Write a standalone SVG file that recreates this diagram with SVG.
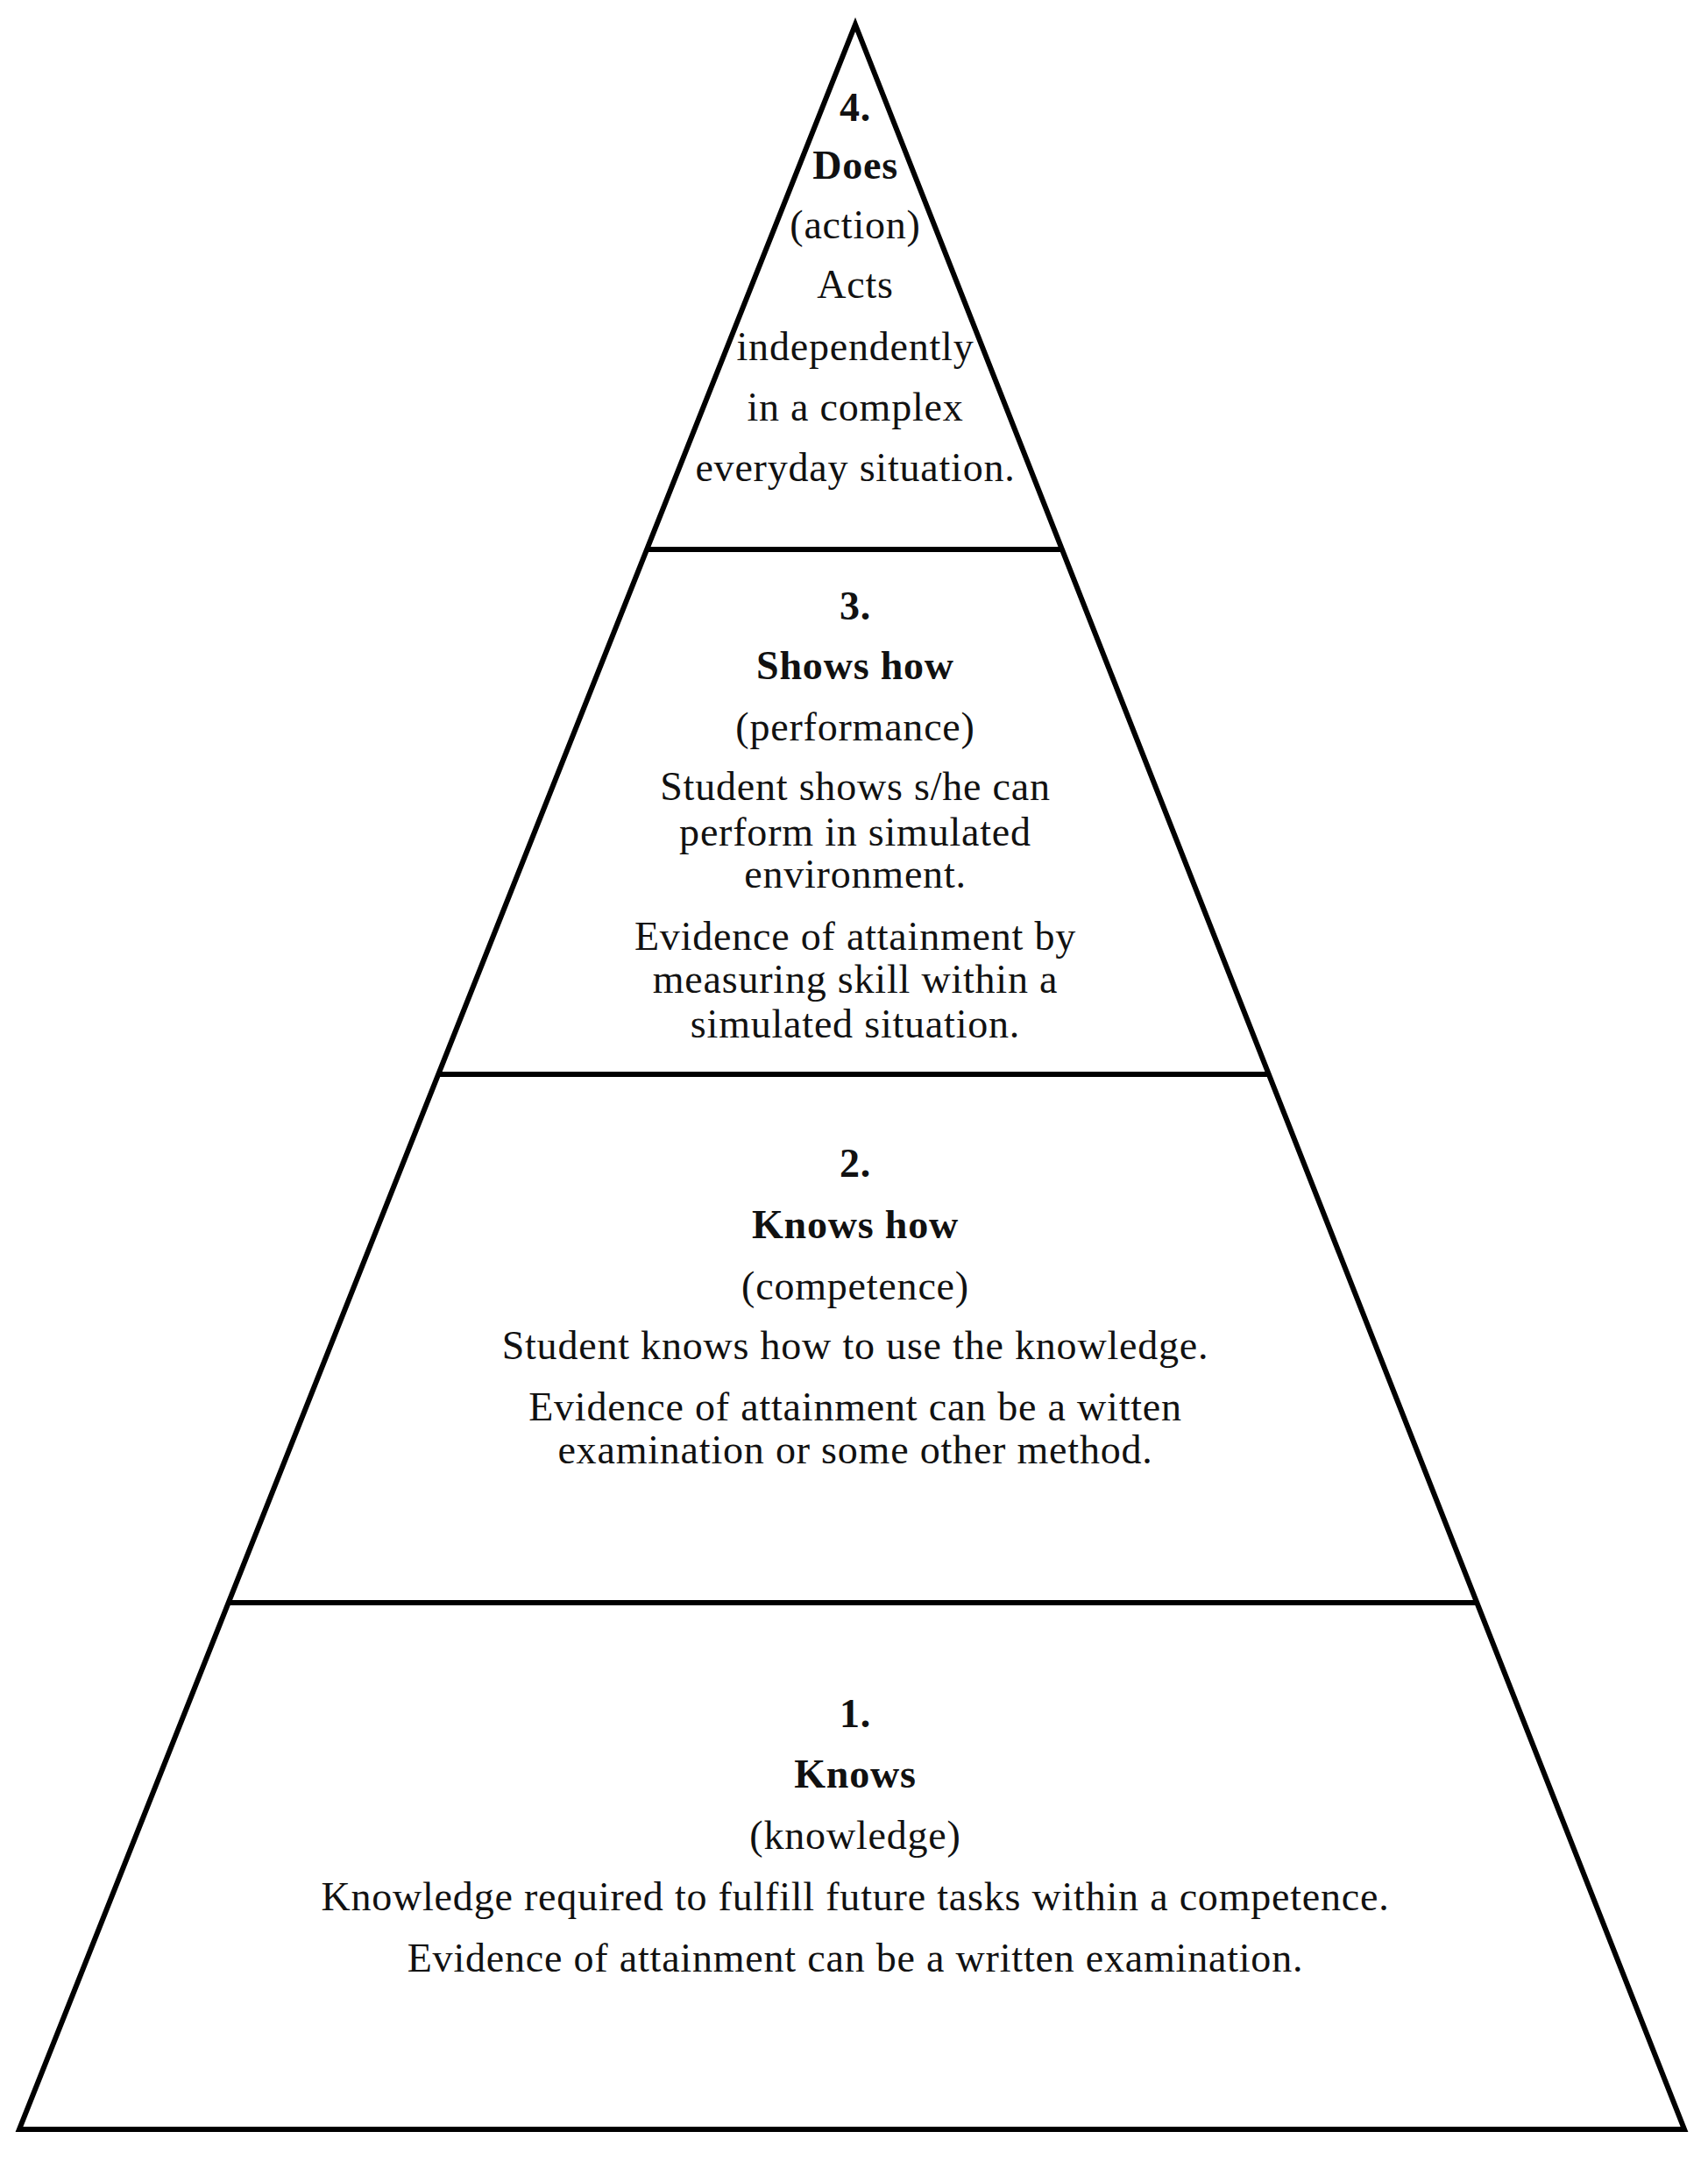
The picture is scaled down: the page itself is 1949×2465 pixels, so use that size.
<svg xmlns="http://www.w3.org/2000/svg" width="1949" height="2465" viewBox="0 0 1949 2465">
<style>
text{font-family:"Liberation Serif","Times New Roman",serif;font-size:46px;letter-spacing:0.8px;fill:#111;text-anchor:middle}
.b{font-weight:bold}
.ln{stroke:#000;stroke-width:6;fill:none}
</style>
<rect width="1949" height="2465" fill="#fff"/>
<g id="connectors">
<polygon class="ln" points="976,28 1922,2430 22,2430" stroke-linejoin="miter"/>
<line class="ln" x1="738" y1="627" x2="1210" y2="627"/>
<line class="ln" x1="500" y1="1226" x2="1446" y2="1226"/>
<line class="ln" x1="260" y1="1829" x2="1684" y2="1829"/>
</g>
<g id="tier4">
<text x="976" y="138" class="b">4.</text>
<text x="976" y="204" class="b">Does</text>
<text x="976" y="272">(action)</text>
<text x="976" y="340">Acts</text>
<text x="976" y="411">independently</text>
<text x="976" y="480">in a complex</text>
<text x="976" y="549">everyday situation.</text>
</g>
<g id="tier3">
<text x="976" y="707" class="b">3.</text>
<text x="976" y="775" class="b">Shows how</text>
<text x="976" y="845">(performance)</text>
<text x="976" y="913">Student shows s/he can</text>
<text x="976" y="965">perform in simulated</text>
<text x="976" y="1013">environment.</text>
<text x="976" y="1084">Evidence of attainment by</text>
<text x="976" y="1133">measuring skill within a</text>
<text x="976" y="1184">simulated situation.</text>
</g>
<g id="tier2">
<text x="976" y="1343" class="b">2.</text>
<text x="976" y="1413" class="b">Knows how</text>
<text x="976" y="1483">(competence)</text>
<text x="976" y="1551">Student knows how to use the knowledge.</text>
<text x="976" y="1621">Evidence of attainment can be a witten</text>
<text x="976" y="1670">examination or some other method.</text>
</g>
<g id="tier1">
<text x="976" y="1971" class="b">1.</text>
<text x="976" y="2040" class="b">Knows</text>
<text x="976" y="2110">(knowledge)</text>
<text x="976" y="2180">Knowledge required to fulfill future tasks within a competence.</text>
<text x="976" y="2250">Evidence of attainment can be a written examination.</text>
</g>
</svg>
